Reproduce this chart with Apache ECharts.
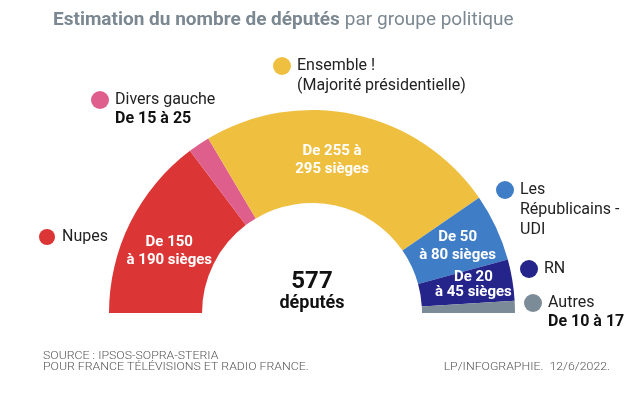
<!DOCTYPE html>
<html><head><meta charset="utf-8">
<script src="https://cdn.jsdelivr.net/npm/echarts@6/dist/echarts.min.js"></script>
<style>html,body{margin:0;padding:0;background:#fff}#c{width:644px;height:393px}</style>
</head><body><div id="c"></div>
<script>
var groups = ['Nupes', 'Divers gauche', 'Ensemble !', 'Les Républicains - UDI', 'RN', 'Autres'];
var seats = [170, 20, 276, 62, 38, 11];
var ranges = ['De 150\nà 190 sièges', 'De 15 à 25', 'De 255 à\n295 sièges', 'De 50\nà 80 sièges', 'De 20\nà 45 sièges', 'De 10 à 17'];
var colors = ['#db3535', '#de5f8c', '#efbf40', '#3f7dc7', '#24248a', '#7b8b97'];
var legendLines = [['Nupes'], ['Divers gauche'], ['Ensemble !', '(Majorité présidentielle)'], ['Les', 'Républicains -', 'UDI'], ['RN'], ['Autres']];
var legendRange = ['', 'De 15 à 25', '', '', '', 'De 10 à 17'];
var totalLabel = ['577', 'députés'];
var titleBold = 'Estimation du nombre de députés';
var titleRest = 'par groupe politique';
var sourceLines = ['SOURCE : IPSOS-SOPRA-STERIA', 'POUR FRANCE TÉLÉVISIONS ET RADIO FRANCE.'];
var credit = 'LP/INFOGRAPHIE.  12/6/2022.';

var FONT = "Roboto, 'Noto Sans', sans-serif";
var insideShow = [true, false, true, true, true, false];
var labelOffset = [[0, 9], [0, 0], [-14, 3], [1, 1], [4, -2], [0, 0]];
var labelLineH = [18, 18, 18, 18, 15, 18];

var chart = echarts.init(document.getElementById('c'));
var data = groups.map(function (g, i) {
  return {
    name: g, value: seats[i],
    itemStyle: { color: colors[i] },
    label: { show: insideShow[i], formatter: ranges[i], offset: labelOffset[i], lineHeight: labelLineH[i] }
  };
});

var legendPos = [[47, 237], [100, 100], [282, 66], [505, 190], [529, 269], [533, 303]];
var dotR = [8, 9, 9, 9, 9, 9];
var graphics = [];
legendLines.forEach(function (lines, i) {
  var p = legendPos[i];
  graphics.push({ type: 'circle', shape: { cx: p[0], cy: p[1], r: dotR[i] }, style: { fill: colors[i] } });
  var tx = p[0] + 15;
  lines.forEach(function (t, j) {
    graphics.push({ type: 'text', x: tx, y: p[1] + j * 20, style: { text: t, fill: '#222', font: '16px ' + FONT, textVerticalAlign: 'middle' } });
  });
  if (legendRange[i]) {
    graphics.push({ type: 'text', x: tx, y: p[1] + lines.length * 19, style: { text: legendRange[i], fill: '#111', font: 'bold 16px ' + FONT, textVerticalAlign: 'middle' } });
  }
});
graphics.push({ type: 'text', x: 312, y: 282, style: { text: totalLabel[0], fill: '#111', font: 'bold 24px ' + FONT, textAlign: 'center', textVerticalAlign: 'middle' } });
graphics.push({ type: 'text', x: 312, y: 303, style: { text: totalLabel[1], fill: '#111', font: 'bold 18px ' + FONT, textAlign: 'center', textVerticalAlign: 'middle' } });
graphics.push({ type: 'text', x: 43, y: 356, scaleX: 1.12, style: { text: sourceLines[0], fill: '#555', font: '300 11px ' + FONT, textVerticalAlign: 'middle' } });
graphics.push({ type: 'text', x: 43, y: 367, scaleX: 1.12, style: { text: sourceLines[1], fill: '#555', font: '300 11px ' + FONT, textVerticalAlign: 'middle' } });
graphics.push({ type: 'text', x: 610, y: 367, scaleX: 1.12, style: { text: credit, fill: '#555', font: '300 11px ' + FONT, textAlign: 'right', textVerticalAlign: 'middle' } });

chart.setOption({
  animation: false,
  title: {
    left: 48, top: 6,
    text: '{b|' + titleBold + '} {n|' + titleRest + '}',
    textStyle: {
      rich: {
        b: { fontFamily: FONT, fontWeight: 'bold', fontSize: 19, color: '#7b8891' },
        n: { fontFamily: FONT, fontWeight: 'normal', fontSize: 19, color: '#7b8891' }
      }
    }
  },
  graphic: graphics,
  series: [{
    type: 'pie',
    center: [312, 313],
    radius: [110, 203],
    startAngle: 180,
    endAngle: 0,
    clockwise: true,
    avoidLabelOverlap: false,
    label: {
      position: 'inside', color: '#fff', fontFamily: FONT, fontWeight: 'bold', fontSize: 15, lineHeight: 18
    },
    labelLine: { show: false },
    emphasis: { disabled: true },
    itemStyle: { borderWidth: 0 },
    data: data
  }]
});
</script></body></html>
